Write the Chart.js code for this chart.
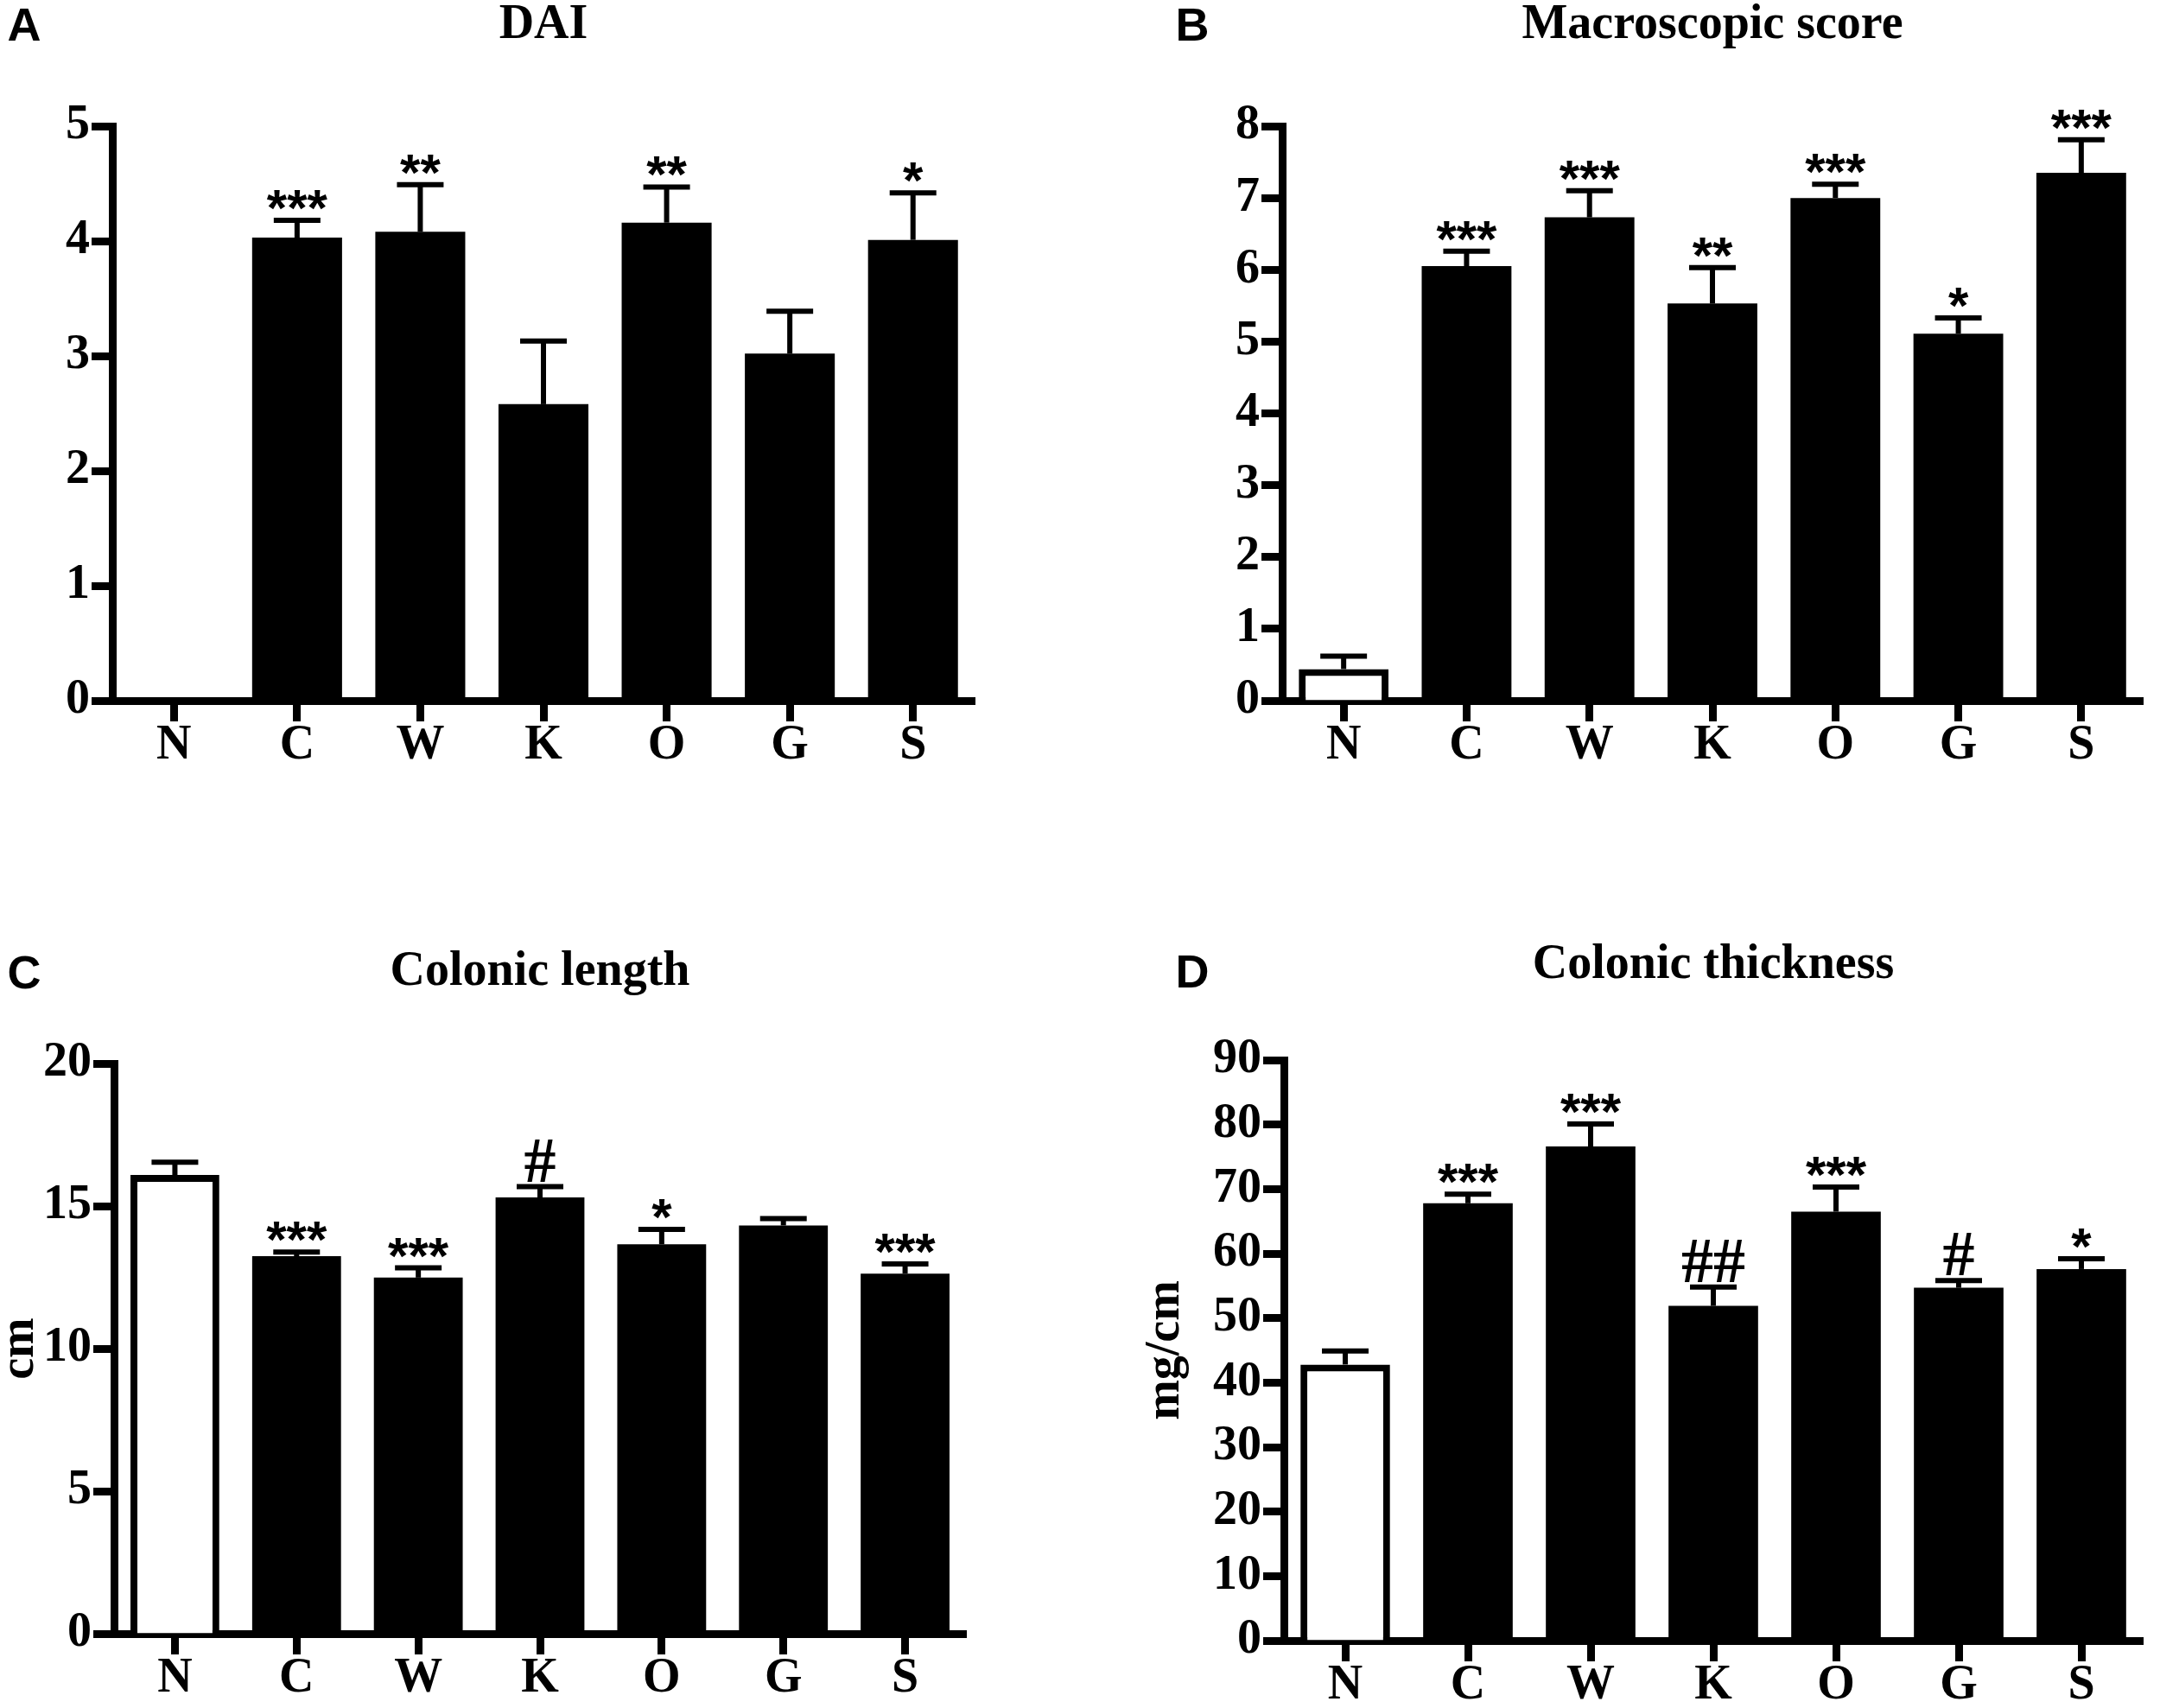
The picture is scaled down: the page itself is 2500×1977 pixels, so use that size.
<!DOCTYPE html>
<html><head><meta charset="utf-8">
<script src="https://cdn.jsdelivr.net/npm/chart.js@4.4.1/dist/chart.umd.min.js"></script>
<style>
html,body{margin:0;padding:0;background:#fff;}
#wrap{position:relative;width:2500px;height:1977px;background:#fff;}
canvas{position:absolute;left:0;top:0;}
</style></head><body>
<div id="wrap">
<canvas id="cA" width="2500" height="1977"></canvas>
<canvas id="cB" width="2500" height="1977"></canvas>
<canvas id="cC" width="2500" height="1977"></canvas>
<canvas id="cD" width="2500" height="1977"></canvas>
</div>
<script>
const categories = ['N', 'C', 'W', 'K', 'O', 'G', 'S'];

const daiMean = [0, 4.03, 4.08, 2.58, 4.16, 3.02, 4.01];
const daiSem = [0, 0.15, 0.41, 0.55, 0.31, 0.37, 0.41];
const daiMarks = ['', '***', '**', '', '**', '', '*'];
const daiTicks = [0, 1, 2, 3, 4, 5];

const macroMean = [0.44, 6.05, 6.73, 5.53, 7.0, 5.11, 7.35];
const macroSem = [0.18, 0.21, 0.37, 0.50, 0.19, 0.22, 0.46];
const macroMarks = ['', '***', '***', '**', '***', '*', '***'];
const macroTicks = [0, 1, 2, 3, 4, 5, 6, 7, 8];

const lengthMean = [16.09, 13.24, 12.49, 15.30, 13.66, 14.32, 12.63];
const lengthSem = [0.45, 0.15, 0.34, 0.38, 0.52, 0.24, 0.34];
const lengthMarks = ['', '***', '***', '#', '*', '', '***'];
const lengthTicks = [0, 5, 10, 15, 20];

const thickMean = [42.8, 67.8, 76.6, 51.9, 66.5, 54.7, 57.6];
const thickSem = [2.1, 1.4, 3.5, 2.9, 3.8, 1.1, 1.6];
const thickMarks = ['', '***', '***', '##', '***', '#', '*'];
const thickTicks = [0, 10, 20, 30, 40, 50, 60, 70, 80, 90];

const SERIF = 'Liberation Serif';
const SANS = 'Liberation Sans';

function overlayPlugin(cfg) {
  return {
    id: 'overlay' + cfg.letter,
    afterDraw(chart) {
      const ctx = chart.ctx;
      const ys = chart.scales.y;
      const meta = chart.getDatasetMeta(0);
      ctx.save();
      ctx.strokeStyle = '#000';
      ctx.fillStyle = '#000';
      ctx.lineCap = 'butt';
      cfg.mean.forEach((v, i) => {
        const bar = meta.data[i];
        const x = bar.x;
        const yTop = ys.getPixelForValue(v);
        const yErr = ys.getPixelForValue(v + cfg.sem[i]);
        if (cfg.sem[i] > 0) {
          ctx.lineWidth = 6;
          ctx.beginPath();
          ctx.moveTo(x, yTop);
          ctx.lineTo(x, yErr);
          ctx.stroke();
          ctx.beginPath();
          ctx.moveTo(x - 27, yErr);
          ctx.lineTo(x + 27, yErr);
          ctx.stroke();
        }
        const mark = cfg.marks[i];
        if (mark) {
          const capTop = yErr - 3;
          ctx.textAlign = 'center';
          ctx.textBaseline = 'alphabetic';
          if (mark.indexOf('#') >= 0) {
            ctx.font = 'bold 74px "' + SERIF + '"';
            ctx.fillText(mark, x, capTop - 3);
          } else {
            ctx.font = 'bold 60px "' + SANS + '"';
            ctx.fillText(mark, x, capTop + 9);
          }
        }
      });
      ctx.font = 'bold 54px "' + SANS + '"';
      ctx.textAlign = 'center';
      ctx.textBaseline = 'middle';
      ctx.fillText(cfg.letter, cfg.letterPos[0], cfg.letterPos[1]);
      ctx.restore();
    }
  };
}

function makePanel(id, cfg) {
  const tickFont = { family: SERIF, weight: 'bold', size: 56, lineHeight: 1 };
  new Chart(document.getElementById(id), {
    type: 'bar',
    data: {
      labels: categories,
      datasets: [{
        data: cfg.mean,
        backgroundColor: cfg.mean.map((v, i) => i === 0 ? '#ffffff' : '#000000'),
        borderColor: '#000000',
        borderWidth: cfg.mean.map((v, i) => i === 0 ? 8 : 0),
        borderSkipped: 'bottom',
        barPercentage: 1,
        categoryPercentage: 0.73
      }]
    },
    options: {
      responsive: false,
      devicePixelRatio: 1,
      animation: false,
      events: [],
      layout: { padding: cfg.pad },
      plugins: {
        legend: { display: false },
        tooltip: { enabled: false },
        title: {
          display: true, text: cfg.title, fullSize: false, color: '#000',
          font: { family: SERIF, weight: 'bold', size: 56, lineHeight: 1 },
          padding: { top: 2, bottom: cfg.titleGap }
        }
      },
      scales: {
        x: {
          z: 1,
          offset: true,
          border: { display: true, color: '#000', width: 9 },
          grid: { display: true, drawOnChartArea: false, drawTicks: true, tickLength: 24, tickWidth: 9, tickColor: '#000', offset: false },
          ticks: { color: '#000', font: tickFont, padding: 1, maxRotation: 0, autoSkip: false },
          afterFit: s => { s.height = cfg.xh; }
        },
        y: {
          z: 1,
          min: 0,
          max: cfg.ticks[cfg.ticks.length - 1],
          border: { display: true, color: '#000', width: 9 },
          grid: { display: true, drawOnChartArea: false, drawTicks: true, tickLength: 24, tickWidth: 9, tickColor: '#000' },
          ticks: { color: '#000', font: tickFont, padding: 2, stepSize: cfg.ticks[1] - cfg.ticks[0], autoSkip: false },
          title: cfg.ytitle ? {
            display: true, text: cfg.ytitle, color: '#000',
            font: { family: SERIF, weight: 'bold', size: 56, lineHeight: 1 },
            padding: { top: cfg.ytitlePad, bottom: 0 }
          } : { display: false },
          afterFit: s => { s.width = cfg.yw; }
        }
      }
    },
    plugins: [overlayPlugin(cfg)]
  });
}

makePanel('cA', {
  letter: 'A', letterPos: [28, 32], title: 'DAI',
  mean: daiMean, sem: daiSem, marks: daiMarks, ticks: daiTicks,
  pad: { left: 0, right: 1372, top: 0, bottom: 1066 },
  titleGap: 88, xh: 100, yw: 130
});
makePanel('cB', {
  letter: 'B', letterPos: [1380, 32], title: 'Macroscopic score',
  mean: macroMean, sem: macroSem, marks: macroMarks, ticks: macroTicks,
  pad: { left: 1354, right: 20, top: 0, bottom: 1066 },
  titleGap: 88, xh: 100, yw: 130
});
makePanel('cC', {
  letter: 'C', letterPos: [28, 1129], title: 'Colonic length',
  mean: lengthMean, sem: lengthSem, marks: lengthMarks, ticks: lengthTicks,
  pad: { left: 0, right: 1382, top: 1096, bottom: 6 },
  titleGap: 77, xh: 80, yw: 132, ytitle: 'cm', ytitlePad: -4
});
makePanel('cD', {
  letter: 'D', letterPos: [1380, 1128], title: 'Colonic thickness',
  mean: thickMean, sem: thickSem, marks: thickMarks, ticks: thickTicks,
  pad: { left: 1322, right: 20, top: 1088, bottom: 4 },
  titleGap: 81, xh: 74, yw: 164, ytitle: 'mg/cm', ytitlePad: 0
});
</script>
</body></html>
